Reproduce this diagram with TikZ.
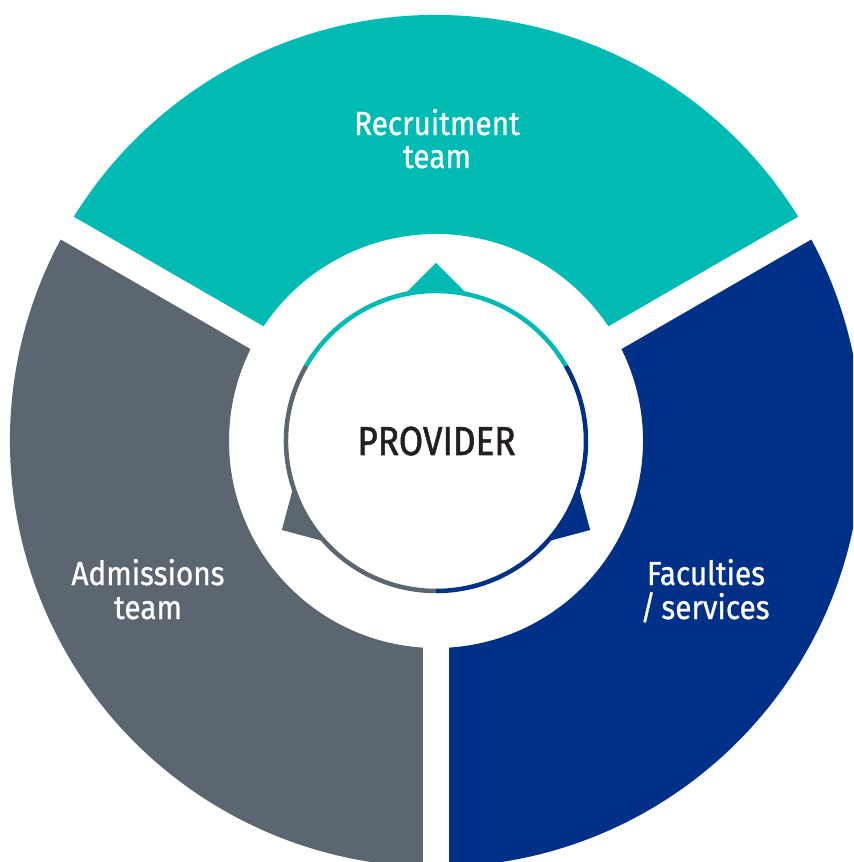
\documentclass[tikz,border=0pt]{standalone}
\usepackage{fontspec}
\setmainfont{Fira Sans}[FakeStretch=0.89,FakeBold=0.8]
\newfontfamily\provfont{Fira Sans}[FakeStretch=0.87,FakeBold=1.4]
\definecolor{recteal}{HTML}{00BBB4}
\definecolor{facblue}{HTML}{003087}
\definecolor{admgray}{HTML}{5B6670}
\definecolor{provtext}{HTML}{231F20}
\newcommand{\Rout}{426}
\newcommand{\Rin}{207}
\newcommand{\Rc}{150}

\begin{document}
\begin{tikzpicture}[x=0.02cm,y=0.02cm,
    lbl/.style={text=white,inner sep=0pt,anchor=base,font=\fontsize{19}{23}\selectfont}]
    \clip (-436,-421) rectangle (417,441);
    \fill[recteal]  (30:\Rout) arc[start angle=30,end angle=150,radius=\Rout]
                    -- (150:\Rin) arc[start angle=150,end angle=30,radius=\Rin] -- cycle;
    \fill[facblue]  (-90:\Rout) arc[start angle=-90,end angle=30,radius=\Rout]
                    -- (30:\Rin) arc[start angle=30,end angle=-90,radius=\Rin] -- cycle;
    \fill[admgray]  (150:\Rout) arc[start angle=150,end angle=270,radius=\Rout]
                    -- (270:\Rin) arc[start angle=270,end angle=150,radius=\Rin] -- cycle;
    \foreach \a in {30,150,270}
        \draw[white,line width=0.52cm] (0,0) -- (\a:460);
    \foreach \a/\c in {90/recteal,-30/facblue,210/admgray}
        \fill[\c,rotate=\a-90] (0,178) -- (-40,138) -- (40,138) -- cycle;
    \fill[white] (0,0) circle[radius=\Rc];
    \draw[recteal,line width=0.09cm] (30:\Rc) arc[start angle=30,end angle=150,radius=\Rc];
    \draw[facblue,line width=0.09cm] (-90:\Rc) arc[start angle=-90,end angle=30,radius=\Rc];
    \draw[admgray,line width=0.09cm] (150:\Rc) arc[start angle=150,end angle=270,radius=\Rc];
    \node[lbl] (rec1) at (1,306)       {Recruitment};
    \node[lbl] (rec2) at (1,273)       {team};
    \node[lbl] (adm1) at (-288,-144)   {Admissions};
    \node[lbl] (adm2) at (-288,-178)   {team};
    \node[lbl] (fac1) at (270,-144)    {Faculties};
    \node[lbl] (fac2) at (269,-178)    {/\,services};
    \node[inner sep=0pt,anchor=base,text=provtext,font=\provfont\fontsize{23}{27}\selectfont]
        (prov) at (0.5,-14) {PROVIDER};
\end{tikzpicture}
\end{document}
